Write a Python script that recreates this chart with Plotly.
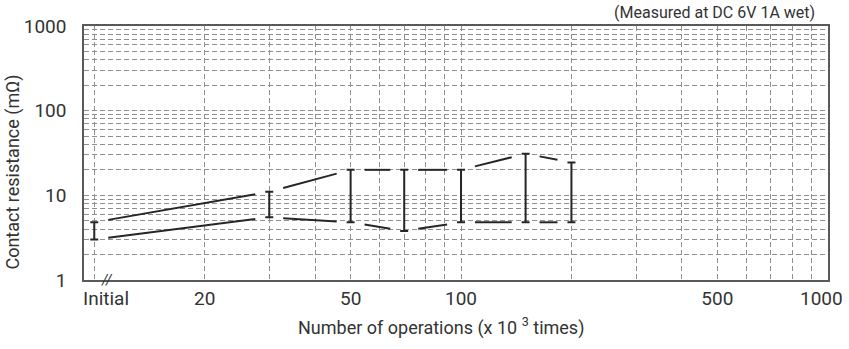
import math
import plotly.graph_objects as go

# ---- data ----
ops = [10, 30, 50, 70, 100, 150, 200]          # x 10^3 operations (10 = "Initial")
r_max = [4.8, 11, 20, 20, 20, 31, 24.5]         # mΩ
r_min = [3.0, 5.5, 4.8, 3.8, 4.8, 4.8, 4.8]     # mΩ

x_tickvals = [10, 20, 30, 40, 50, 60, 70, 80, 90, 100,
              200, 300, 400, 500, 600, 700, 800, 900, 1000]
x_ticktext = ["", "20", "", "", "50", "", "", "", "", "100",
              "", "", "", "500", "", "", "", "", ""]
# end labels drawn beside their gridlines (as in the reference)
x_edge_labels = [(10, "Initial", 12), (1000, "1000", -6)]
y_tickvals = [1, 2, 3, 4, 5, 6, 7, 8, 9,
              10, 20, 30, 40, 50, 60, 70, 80, 90,
              100, 200, 300, 400, 500, 600, 700, 800, 900, 1000]
y_ticktext = ["1"] + [""] * 8 + ["10"] + [""] * 8 + ["100"] + [""] * 8 + ["1000"]

FONT = "Roboto, 'Open Sans', sans-serif"
INK = "#262626"
TXT = "#333333"
GRID = "#8f8f8f"
GAP = 0.038  # decades of empty space left beside each bar


def gapped(xs, ys):
    """Connect consecutive points in log-log space, stopping short of each bar."""
    gx, gy = [], []
    for i in range(len(xs) - 1):
        lx0, lx1 = math.log10(xs[i]), math.log10(xs[i + 1])
        ly0, ly1 = math.log10(ys[i]), math.log10(ys[i + 1])
        for t in (GAP / (lx1 - lx0), 1 - GAP / (lx1 - lx0)):
            gx.append(10 ** (lx0 + t * (lx1 - lx0)))
            gy.append(10 ** (ly0 + t * (ly1 - ly0)))
        gx.append(None)
        gy.append(None)
    return gx, gy


fig = go.Figure()

for series in (r_max, r_min):
    gx, gy = gapped(ops, series)
    fig.add_trace(go.Scatter(x=gx, y=gy, mode="lines", connectgaps=False,
                             line=dict(color=INK, width=2), hoverinfo="skip",
                             showlegend=False))

fig.add_trace(go.Scatter(
    x=ops, y=r_min, mode="markers", marker=dict(size=1, opacity=0),
    error_y=dict(type="data", symmetric=False,
                 array=[hi - lo for hi, lo in zip(r_max, r_min)],
                 arrayminus=[0] * len(ops),
                 color=INK, thickness=2, width=4),
    showlegend=False))

axis_common = dict(type="log", showline=True, linecolor="#5a5a5a", linewidth=1.5,
                   mirror=True, showgrid=True, gridcolor=GRID, gridwidth=1,
                   griddash="5px,3px", zeroline=False, ticks="",
                   tickfont=dict(family=FONT, size=19, color=TXT))

fig.update_xaxes(**axis_common, range=[0.972, 3.0006],
                 tickmode="array", tickvals=x_tickvals, ticktext=x_ticktext)
fig.update_yaxes(**axis_common, range=[-0.0006, 3.0006],
                 tickmode="array", tickvals=y_tickvals, ticktext=y_ticktext,
                 ticklabelstandoff=12)

for val, label, shift in x_edge_labels:
    fig.add_annotation(text=label, xref="x", yref="paper", x=math.log10(val),
                       y=-0.074, xshift=shift, xanchor="center", yanchor="middle",
                       showarrow=False, font=dict(family=FONT, size=19, color=TXT))

fig.add_annotation(text="Number of operations (x 10 <sup>3</sup> times)",
                   xref="paper", yref="paper", x=0.48, y=-0.185,
                   xanchor="center", yanchor="middle", showarrow=False,
                   font=dict(family=FONT, size=18, color=TXT))
fig.add_annotation(text="Contact resistance (mΩ)", textangle=-90,
                   xref="paper", yref="paper", x=-0.0954, y=0.423,
                   xanchor="center", yanchor="middle", showarrow=False,
                   font=dict(family=FONT, size=18, color=TXT))
fig.add_annotation(text="(Measured at DC 6V 1A wet)",
                   xref="paper", yref="paper", x=0.985, y=1.055,
                   xanchor="right", yanchor="middle", showarrow=False,
                   font=dict(family=FONT, size=16, color=TXT))
# axis break mark next to "Initial"
fig.add_annotation(text="<i>//</i>", xref="x", yref="paper", x=math.log10(10.8), y=0,
                   xanchor="center", yanchor="middle", showarrow=False,
                   font=dict(family=FONT, size=14, color=TXT))

fig.update_layout(width=849, height=349, autosize=False,
                  margin=dict(l=84, r=21, t=26, b=69),
                  paper_bgcolor="white", plot_bgcolor="white",
                  font=dict(family=FONT, color=TXT))

fig.write_html("out.html")
